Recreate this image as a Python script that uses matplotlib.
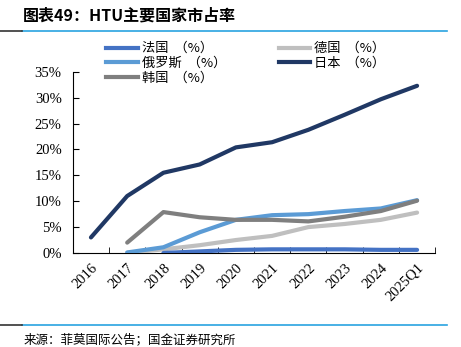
import numpy as np
import matplotlib
matplotlib.use("Agg")
import matplotlib.pyplot as plt
from matplotlib.lines import Line2D

plt.rcParams['font.family'] = ['Liberation Serif', 'Noto Sans CJK SC']

# categories and series (% market share)
years = ['2016', '2017', '2018', '2019', '2020', '2021', '2022', '2023', '2024', '2025Q1']
france = [None, None, 0.0, 0.3, 0.6, 0.7, 0.7, 0.7, 0.6, 0.6]
germany = [None, 0.0, 0.7, 1.5, 2.5, 3.3, 5.0, 5.6, 6.4, 7.8]
russia = [None, 0.1, 1.1, 4.0, 6.4, 7.3, 7.5, 8.1, 8.6, 10.2]
japan = [3.0, 11.0, 15.5, 17.1, 20.4, 21.4, 23.8, 26.7, 29.7, 32.3]
korea = [None, 2.0, 7.9, 6.9, 6.4, 6.4, 6.1, 7.0, 8.1, 10.1]

series = [
    ('法国  （%）', france, '#4472C4'),
    ('俄罗斯  （%）', russia, '#5B9BD5'),
    ('韩国  （%）', korea, '#7F7F7F'),
    ('德国  （%）', germany, '#BFBFBF'),
    ('日本  （%）', japan, '#203864'),
]
draw_order = [3, 1, 2, 0, 4]

fig = plt.figure(figsize=(4.61, 3.47), dpi=100)
ax = fig.add_axes([0.158, 0.271, 0.786, 0.522])

x = np.arange(len(years))
handles = []
for name, vals, color in series:
    handles.append(Line2D([], [], color=color, lw=3, label=name))
for i in draw_order:
    name, vals, color = series[i]
    arr = np.array([np.nan if v is None else v for v in vals], dtype=float)
    ax.plot(x, arr, color=color, lw=3, solid_capstyle='round', zorder=3)

ax.set_xlim(-0.5, len(years) - 0.5)
ax.set_ylim(0, 35)
ax.set_yticks(np.arange(0, 36, 5))
ax.set_yticklabels([f'{v}%' for v in range(0, 36, 5)], fontsize=10.5)
ax.set_xticks(x)
ax.set_xticklabels(years, rotation=45, ha='right', rotation_mode='anchor', fontsize=10.5)
ax.set_xticks(np.arange(-0.5, len(years) + 0.5, 1), minor=True)
ax.tick_params(axis='x', which='major', length=0, pad=6)
ax.tick_params(axis='x', which='minor', direction='in', length=4)
ax.tick_params(axis='y', direction='in', length=4, pad=8)
for s in ['top', 'right']:
    ax.spines[s].set_visible(False)

fig.legend(handles=handles, ncol=2, loc='upper left', bbox_to_anchor=(0.21, 0.905),
           frameon=False, prop={'family': 'Noto Sans CJK SC', 'size': 9.5},
           handlelength=2.4, handletextpad=0.3, columnspacing=4.0, labelspacing=0.12,
           borderaxespad=0.3)

# header and footer
fig.text(0.05, 0.955, '图表49：HTU主要国家市占率', fontsize=11.5, fontweight='bold',
         style='italic', family=['Noto Sans CJK SC'], va='center')
fig.add_artist(Line2D([0.048, 0.97], [0.91, 0.91], color='#29A3E0', lw=1.2))
fig.add_artist(Line2D([0.0, 0.048], [0.91, 0.91], color='#333333', lw=1.2))
fig.add_artist(Line2D([0.048, 0.97], [0.063, 0.063], color='#29A3E0', lw=1.2))
fig.add_artist(Line2D([0.0, 0.048], [0.063, 0.063], color='#333333', lw=1.2))
fig.text(0.05, 0.02, '来源：菲莫国际公告；国金证券研究所', fontsize=9,
         family=['Noto Sans CJK SC'], va='center')

fig.savefig('out.png', dpi=100)
